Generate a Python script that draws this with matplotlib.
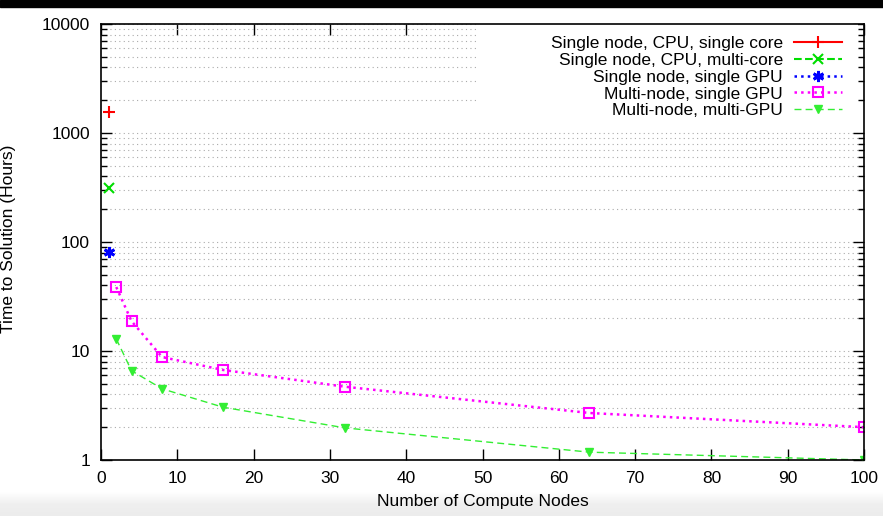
import numpy as np
import matplotlib
matplotlib.use("Agg")
import matplotlib.pyplot as plt
from matplotlib.patches import Rectangle
from matplotlib.colors import LinearSegmentedColormap

plt.rcParams['font.family'] = ['Liberation Sans', 'DejaVu Sans']

# data
x_single = [1]
y_cpu_single = [1560]
y_cpu_multi = [310]
y_gpu_single = [81]

nodes = [2, 4, 8, 16, 32, 64, 100]
y_multi_single_gpu = [38.6, 18.8, 8.8, 6.7, 4.7, 2.7, 2.0]
y_multi_multi_gpu = [12.9, 6.6, 4.5, 3.05, 1.97, 1.18, 1.0]

labels = ["Single node, CPU, single core",
          "Single node, CPU, multi-core",
          "Single node, single GPU",
          "Multi-node, single GPU",
          "Multi-node, multi-GPU"]

fig = plt.figure(figsize=(8.83, 5.16), dpi=100)

# screenshot framing: black strip on top, grey fade at the bottom
fig.patches.append(Rectangle((0, 1 - 7/516), 1, 7/516, transform=fig.transFigure,
                             color='black', zorder=0))
bg = fig.add_axes([0, 0, 1, 24/516], zorder=-1)
fade = LinearSegmentedColormap.from_list('fade', ['#ffffff', '#efefef', '#ececec'])
grad = np.linspace(0, 1, 50).reshape(-1, 1)
bg.imshow(grad, aspect='auto', cmap=fade, extent=[0, 1, 0, 1], origin='upper')
bg.axis('off')

ax = fig.add_axes([101/883, 1 - 460/516, 763/883, 436/516])
ax.patch.set_alpha(0)

ax.plot(x_single, y_cpu_single, color='#ff0000', ls='-', lw=1.5,
        marker='+', ms=9, mew=1.5, label=labels[0])
ax.plot(x_single, y_cpu_multi, color='#00dd00', ls='--', lw=1.5,
        marker='x', ms=7, mew=1.5, label=labels[1])
ax.plot(x_single, y_gpu_single, color='#0000ff', ls=':', lw=1.8,
        marker=(6, 2, 0), ms=8, mew=2, label=labels[2])
ax.plot(nodes, y_multi_single_gpu, color='#ff00ff', ls=':', lw=1.8,
        marker='s', ms=7.5, mfc='none', mew=1.5, label=labels[3])
ax.plot(nodes, y_multi_multi_gpu, color='#33ee33', ls=(0, (5, 3)), lw=1,
        marker='v', ms=6, label=labels[4])

ax.set_yscale('log')
ax.set_xlim(0, 100)
ax.set_ylim(1, 10000)
ax.set_xticks(np.arange(0, 101, 10))
ax.set_yticks([1, 10, 100, 1000, 10000])
ax.set_yticklabels(['1', '10', '100', '1000', '10000'])
ax.yaxis.set_minor_locator(matplotlib.ticker.LogLocator(base=10, subs=np.arange(2, 10)))
ax.yaxis.set_minor_formatter(matplotlib.ticker.NullFormatter())

ax.tick_params(axis='both', which='both', direction='in', top=True, right=True,
               width=1, colors='black')
ax.tick_params(axis='y', which='major', length=8, labelsize=12.5, pad=8)
ax.tick_params(axis='x', which='major', length=8, labelsize=12.5, pad=8)
ax.tick_params(axis='y', which='minor', length=4)

ax.grid(True, axis='y', which='both', color='#aaaaaa', ls=(0, (1, 3)), lw=0.8)
ax.set_axisbelow(True)

for s in ax.spines.values():
    s.set_linewidth(1.2)

# white key background hides the grid behind it
ax.add_patch(Rectangle((0.494, 0.79), 0.498, 0.21, transform=ax.transAxes,
                       facecolor='white', edgecolor='none', zorder=1.5))

leg = ax.legend(loc='upper right', bbox_to_anchor=(0.985, 0.997), frameon=False,
                markerfirst=False, fontsize=12.5, handlelength=2.8,
                labelspacing=0.1, handletextpad=0.6, borderaxespad=0.2)

ax.set_xlabel("Number of Compute Nodes", fontsize=12.5)
ax.xaxis.set_label_coords(0.5, -0.078)
ax.set_ylabel("Time to Solution (Hours)", fontsize=12.5)
ax.yaxis.set_label_coords(-0.111, 0.507)

fig.savefig("out.png", dpi=100)
